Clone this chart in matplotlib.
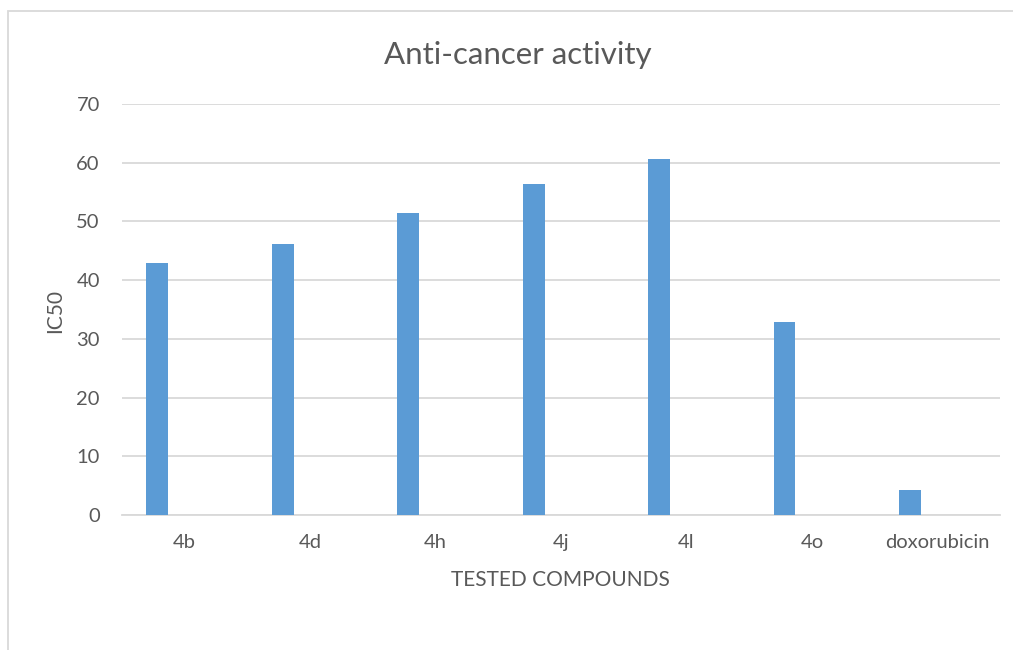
import matplotlib.pyplot as plt
import matplotlib.patches as mpatches
import numpy as np

plt.rcParams['font.family'] = ['Lato', 'DejaVu Sans']

compounds = ['4b', '4d', '4h', '4j', '4l', '4o', 'doxorubicin']
ic50 = [42.9, 46.1, 51.4, 56.4, 60.7, 32.8, 4.3]
yticks = [0, 10, 20, 30, 40, 50, 60, 70]

text_color = '#595959'
grid_color = '#d9d9d9'

W, H = 1013, 650
fig = plt.figure(figsize=(W / 100, H / 100), dpi=100)
ax = fig.add_axes([122 / W, 1 - 515 / H, (1000 - 122) / W, (515 - 104) / H])

x = np.arange(len(compounds))
# bars sit left of the category centre, like Excel with empty series beside them
ax.bar(x - 0.218, ic50, width=0.175, color='#5B9BD5', zorder=3)

ax.set_xlim(-0.5, len(compounds) - 0.5)
ax.set_ylim(0, 70)
ax.set_yticks(yticks)
ax.set_xticks(x)
ax.set_xticklabels(compounds)
ax.grid(axis='y', color=grid_color, linewidth=1.3, zorder=0)
for s in ['top', 'right', 'left']:
    ax.spines[s].set_visible(False)
ax.spines['bottom'].set_color(grid_color)
ax.spines['bottom'].set_linewidth(1.3)
ax.tick_params(axis='y', length=0, pad=16, labelsize=14.5, labelcolor=text_color)
ax.tick_params(axis='x', length=0, pad=14, labelsize=14.5, labelcolor=text_color)

fig.text(518 / W, 1 - 55 / H, 'Anti-cancer activity', ha='center', va='center',
         fontsize=22.5, color=text_color)
fig.text(560 / W, 1 - 580 / H, 'TESTED COMPOUNDS', ha='center', va='center',
         fontsize=15, color=text_color)
fig.text(55 / W, 1 - 311 / H, 'IC50', ha='center', va='center', rotation=90,
         fontsize=15, color=text_color)

# chart area border (only left and top edges are visible in the crop)
border = mpatches.Rectangle((8 / W, -0.1), 1.2, 1 - 11 / H + 0.1, transform=fig.transFigure,
                            fill=False, edgecolor=grid_color, linewidth=1.3)
fig.patches.append(border)

plt.savefig('out.png', dpi=100)
